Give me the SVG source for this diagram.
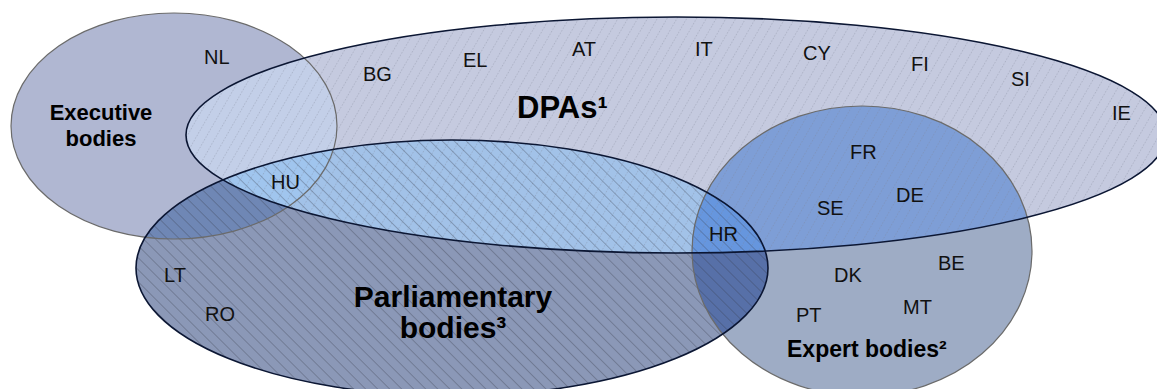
<svg xmlns="http://www.w3.org/2000/svg" width="1157" height="389" viewBox="0 0 1157 389">
  <style>
    .country { font-family: "Liberation Sans", Arial, sans-serif; font-size: 20px; fill: #111; }
    .title { font-family: "Liberation Sans", Arial, sans-serif; font-weight: bold; fill: #000; }
    .thin { fill: none; stroke: #6b6b6b; stroke-width: 1.2; }
    .thick { fill: none; stroke: #0b1633; stroke-width: 1.6; }
  </style>
  <defs>
    <clipPath id="clipExec"><ellipse cx="174" cy="126" rx="163" ry="113"/></clipPath>
    <clipPath id="clipDPA"><ellipse cx="676" cy="135" rx="490" ry="118"/></clipPath>
    <clipPath id="clipParl"><ellipse cx="452" cy="268" rx="316" ry="128"/></clipPath>
    <clipPath id="clipExp"><ellipse cx="862" cy="251" rx="170" ry="145"/></clipPath>
    <pattern id="parlHatch" width="8.5" height="8.5" patternUnits="userSpaceOnUse" patternTransform="rotate(-45)">
      <line x1="0" y1="-1" x2="0" y2="9.5" stroke="#333845" stroke-width="0.9" stroke-opacity="0.65"/>
    </pattern>
    <pattern id="dpaHatch" width="8.5" height="9" patternUnits="userSpaceOnUse" patternTransform="rotate(30)">
      <line x1="0" y1="0" x2="0" y2="9" stroke="#7d8294" stroke-width="0.9" stroke-dasharray="1.5 1.5" stroke-opacity="0.75"/>
    </pattern>
  </defs>

  <g id="fills">
    <ellipse cx="174" cy="126" rx="163" ry="113" fill="#b0b7d2"/>
    <ellipse cx="862" cy="251" rx="170" ry="145" fill="#9eacc5"/>
    <ellipse cx="452" cy="268" rx="316" ry="128" fill="#8b98b7"/>
    <ellipse cx="676" cy="135" rx="490" ry="118" fill="#c5cadf"/>
  </g>

  <g id="overlaps">
    <ellipse cx="676" cy="135" rx="490" ry="118" fill="#c3cfe8" clip-path="url(#clipExec)"/>
    <ellipse cx="676" cy="135" rx="490" ry="118" fill="#a2c2e8" clip-path="url(#clipParl)"/>
    <ellipse cx="452" cy="268" rx="316" ry="128" fill="#6f87b5" clip-path="url(#clipExec)"/>
    <ellipse cx="676" cy="135" rx="490" ry="118" fill="#7e9ed6" clip-path="url(#clipExp)"/>
    <ellipse cx="452" cy="268" rx="316" ry="128" fill="#5770a8" clip-path="url(#clipExp)"/>
    <g clip-path="url(#clipExec)">
      <ellipse cx="676" cy="135" rx="490" ry="118" fill="#a0c5ee" clip-path="url(#clipParl)"/>
    </g>
    <g clip-path="url(#clipExp)">
      <ellipse cx="676" cy="135" rx="490" ry="118" fill="#6696de" clip-path="url(#clipParl)"/>
    </g>
  </g>

  <g id="hatches">
    <ellipse cx="676" cy="135" rx="490" ry="118" fill="url(#dpaHatch)"/>
    <ellipse cx="452" cy="268" rx="316" ry="128" fill="url(#parlHatch)"/>
  </g>

  <g id="node-executive">
    <ellipse class="thin" cx="174" cy="126" rx="163" ry="113"/>
    <text class="title" font-size="22" text-anchor="middle"><tspan x="101" y="120">Executive</tspan><tspan x="101" y="146">bodies</tspan></text>
  </g>
  <g id="node-expert">
    <ellipse class="thin" cx="862" cy="251" rx="170" ry="145"/>
    <text class="title" font-size="23" x="787" y="357">Expert bodies²</text>
  </g>
  <g id="node-parliamentary">
    <ellipse class="thick" cx="452" cy="268" rx="316" ry="128"/>
    <text class="title" font-size="30" text-anchor="middle"><tspan x="453" y="307">Parliamentary</tspan><tspan x="453" y="338">bodies³</tspan></text>
  </g>
  <g id="node-dpas">
    <ellipse class="thick" cx="676" cy="135" rx="490" ry="118"/>
    <text class="title" font-size="31" x="517" y="118">DPAs¹</text>
  </g>

  <g id="connectors"/>

  <g id="countries">
    <text class="country" x="204" y="64">NL</text>
    <text class="country" x="363" y="81">BG</text>
    <text class="country" x="271" y="189">HU</text>
    <text class="country" x="463" y="67">EL</text>
    <text class="country" x="572" y="56">AT</text>
    <text class="country" x="695" y="56">IT</text>
    <text class="country" x="803" y="60">CY</text>
    <text class="country" x="911" y="71">FI</text>
    <text class="country" x="1011" y="86">SI</text>
    <text class="country" x="1112" y="120">IE</text>
    <text class="country" x="850" y="159">FR</text>
    <text class="country" x="896" y="202">DE</text>
    <text class="country" x="817" y="215">SE</text>
    <text class="country" x="709" y="241">HR</text>
    <text class="country" x="164" y="282">LT</text>
    <text class="country" x="205" y="321">RO</text>
    <text class="country" x="834" y="282">DK</text>
    <text class="country" x="938" y="270">BE</text>
    <text class="country" x="903" y="314">MT</text>
    <text class="country" x="796" y="322">PT</text>
  </g>
</svg>
